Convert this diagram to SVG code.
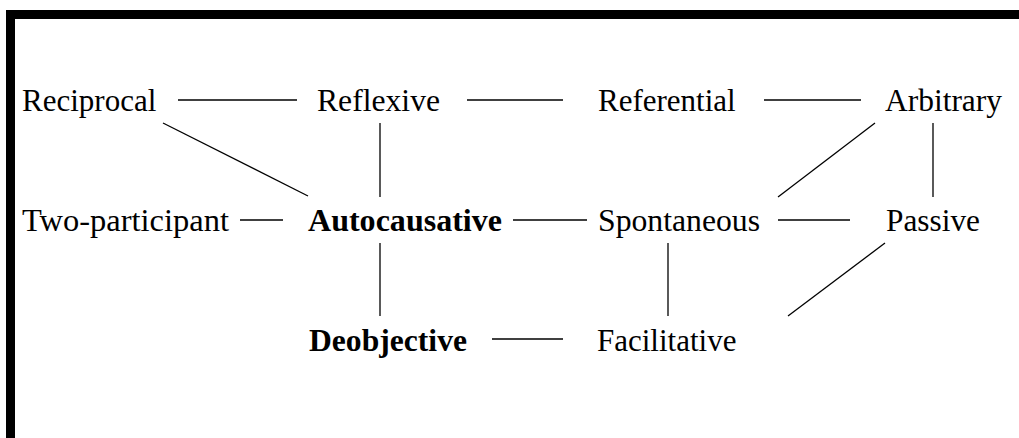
<svg xmlns="http://www.w3.org/2000/svg" width="1019" height="438" viewBox="0 0 1019 438">
<style>
text{font-family:"Liberation Serif","Times New Roman",serif;font-size:31px;fill:#000}
.b{font-weight:bold}
#edges line{stroke:#000;stroke-width:1.3}
</style>
<rect x="0" y="0" width="1019" height="438" fill="#fff"/>
<g id="frame">
<rect x="6" y="10" width="1013" height="9" fill="#000"/>
<rect x="6" y="10" width="9" height="428" fill="#000"/>
</g>
<g id="edges">
<line x1="178" y1="100" x2="297" y2="100"/>
<line x1="467" y1="100" x2="563" y2="100"/>
<line x1="764" y1="100" x2="861" y2="100"/>
<line x1="163" y1="123" x2="308" y2="196"/>
<line x1="380" y1="123" x2="380" y2="197"/>
<line x1="875" y1="123" x2="778" y2="197"/>
<line x1="933" y1="123" x2="933" y2="197"/>
<line x1="240" y1="220" x2="283" y2="220"/>
<line x1="513" y1="220" x2="587" y2="220"/>
<line x1="778" y1="220" x2="850" y2="220"/>
<line x1="380" y1="243" x2="380" y2="316"/>
<line x1="668" y1="243" x2="668" y2="316"/>
<line x1="885" y1="243" x2="788" y2="316"/>
<line x1="492" y1="339" x2="563" y2="339"/>
</g>
<g id="reciprocal"><text x="22" y="111">Reciprocal</text></g>
<g id="reflexive"><text x="317" y="111" textLength="123" lengthAdjust="spacingAndGlyphs">Reflexive</text></g>
<g id="referential"><text x="598" y="111">Referential</text></g>
<g id="arbitrary"><text x="885" y="111" textLength="117" lengthAdjust="spacingAndGlyphs">Arbitrary</text></g>
<g id="two-participant"><text x="22" y="231" textLength="207" lengthAdjust="spacingAndGlyphs">Two-participant</text></g>
<g id="autocausative"><text class="b" x="308" y="231" textLength="194" lengthAdjust="spacingAndGlyphs">Autocausative</text></g>
<g id="spontaneous"><text x="598" y="231" textLength="162" lengthAdjust="spacingAndGlyphs">Spontaneous</text></g>
<g id="passive"><text x="886" y="231" textLength="94" lengthAdjust="spacingAndGlyphs">Passive</text></g>
<g id="deobjective"><text class="b" x="309" y="351" textLength="158" lengthAdjust="spacingAndGlyphs">Deobjective</text></g>
<g id="facilitative"><text x="597" y="351">Facilitative</text></g>
</svg>
